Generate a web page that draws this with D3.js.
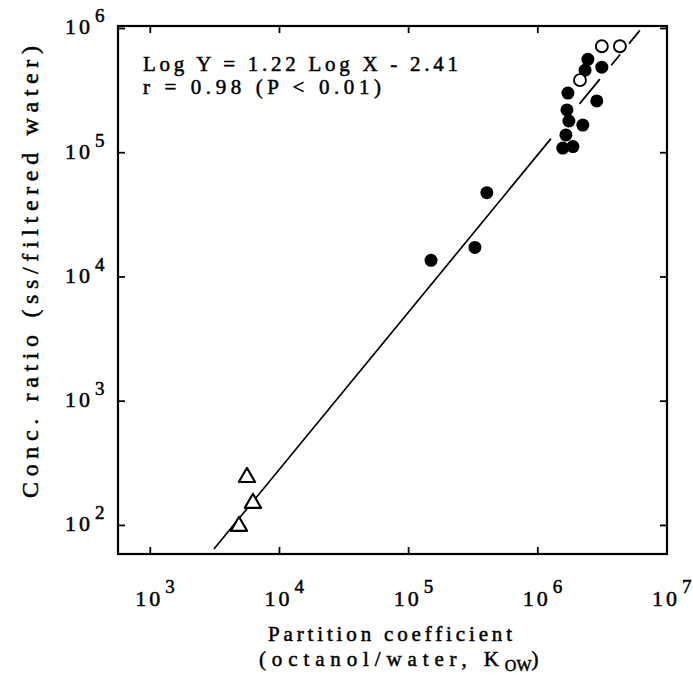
<!DOCTYPE html>
<html><head><meta charset="utf-8">
<script src="https://cdn.jsdelivr.net/npm/d3@7"></script>
<style>body{margin:0;background:#fff}</style>
</head><body>
<svg id="c" width="693" height="675"></svg>
<script>
// ---- data ----
const filledX = [1.49e5, 3.26e5, 4.03e5, 2.44e6, 2.32e6, 3.13e6, 1.71e6, 2.86e6, 1.68e6, 1.74e6, 2.23e6, 1.65e6, 1.56e6, 1.87e6];
const filledY = [1.36e4, 1.73e4, 4.77e4, 5.65e5, 4.61e5, 4.88e5, 3.02e5, 2.61e5, 2.21e5, 1.80e5, 1.67e5, 1.39e5, 1.09e5, 1.12e5];
const openX = [3.13e6, 4.32e6, 2.12e6];
const openY = [7.19e5, 7.19e5, 3.84e5];
const triX = [5600, 6230, 4860];
const triY = [244, 151, 98.6];
const lineX = [3110, 6.17e6];
const lineY = [64.6, 9.66e5];
const xTicks = [1e3, 1e4, 1e5, 1e6, 1e7];
const xTickExp = ["3", "4", "5", "6", "7"];
const yTicks = [1e2, 1e3, 1e4, 1e5, 1e6];
const yTickExp = ["2", "3", "4", "5", "6"];
const eqLines = ["Log Y = 1.22 Log X - 2.41", "r = 0.98 (P < 0.01)"];
const xTitle1 = "Partition coefficient";
const xTitle2 = ["(octanol/water, K", "OW", ")"];
const yTitle = "Conc. ratio (ss/filtered water)";

// ---- drawing ----
const svg = d3.select("#c");
const FONT = "Liberation Serif, DejaVu Serif, serif";
const L = 118, R = 667, T = 26, B = 554;
const x = d3.scaleLog().domain([Math.pow(10, 2.75), 1e7]).range([L, R]);
const y = d3.scaleLog().domain([Math.pow(10, 1.77), Math.pow(10, 6.02)]).range([B, T]);

function txt(sel) {
  return sel.attr("font-family", FONT).attr("fill", "#000")
    .attr("stroke", "#000").attr("stroke-width", 0.5);
}

// regression line (solid then dashed extrapolation)
const lineData = lineX.map((v, i) => [v, lineY[i]]);
svg.append("path")
  .attr("d", d3.line().x(d => x(d[0])).y(d => y(d[1]))(lineData))
  .attr("fill", "none").attr("stroke", "#000").attr("stroke-width", 1.7)
  .attr("stroke-dasharray", "531 45 32 18 14 14 30");

// frame
svg.append("rect").attr("x", L).attr("y", T).attr("width", R - L).attr("height", B - T)
  .attr("fill", "none").attr("stroke", "#000").attr("stroke-width", 2.2);

// ticks
const tk = 7;
xTicks.forEach(v => {
  svg.append("line").attr("x1", x(v)).attr("x2", x(v)).attr("y1", B).attr("y2", B - tk).attr("stroke", "#000").attr("stroke-width", 1.8);
  svg.append("line").attr("x1", x(v)).attr("x2", x(v)).attr("y1", T).attr("y2", T + tk).attr("stroke", "#000").attr("stroke-width", 1.8);
});
yTicks.forEach(v => {
  svg.append("line").attr("x1", L).attr("x2", L + tk).attr("y1", y(v)).attr("y2", y(v)).attr("stroke", "#000").attr("stroke-width", 1.8);
  svg.append("line").attr("x1", R).attr("x2", R - tk).attr("y1", y(v)).attr("y2", y(v)).attr("stroke", "#000").attr("stroke-width", 1.8);
});

// tick labels
xTicks.forEach((v, i) => {
  const t = txt(svg.append("text")).attr("x", x(v) - 15).attr("y", 606).attr("font-size", 22);
  t.append("tspan").attr("textLength", 25).attr("lengthAdjust", "spacing").text("10");
  t.append("tspan").attr("dx", 2).attr("dy", -13).attr("font-size", 19).text(xTickExp[i]);
});
yTicks.forEach((v, i) => {
  const t = txt(svg.append("text")).attr("x", 65).attr("y", y(v) + 6).attr("font-size", 22);
  t.append("tspan").attr("textLength", 25).attr("lengthAdjust", "spacing").text("10");
  t.append("tspan").attr("dx", 2).attr("dy", -12).attr("font-size", 19).text(yTickExp[i]);
});

// points
svg.selectAll("circle.f").data(filledX).enter().append("circle")
  .attr("cx", d => x(d)).attr("cy", (d, i) => y(filledY[i])).attr("r", 6.5).attr("fill", "#000");
svg.selectAll("circle.o").data(openX).enter().append("circle")
  .attr("cx", d => x(d)).attr("cy", (d, i) => y(openY[i])).attr("r", 6)
  .attr("fill", "#fff").attr("stroke", "#000").attr("stroke-width", 1.9);
const tri = d3.symbol().type(d3.symbolTriangle).size(115);
svg.selectAll("path.t").data(triX).enter().append("path")
  .attr("d", tri).attr("transform", (d, i) => `translate(${x(d)},${y(triY[i])})`)
  .attr("fill", "#fff").attr("stroke", "#000").attr("stroke-width", 2.1).attr("stroke-linejoin", "round");

// equation text
const eqLen = [315, 238];
eqLines.forEach((s, i) => {
  txt(svg.append("text")).attr("x", 143).attr("y", 71 + i * 23)
    .attr("font-size", 21).attr("textLength", eqLen[i]).attr("lengthAdjust", "spacing").text(s);
});

// axis titles
txt(svg.append("text")).attr("x", 268).attr("y", 641)
  .attr("font-size", 21).attr("textLength", 244).attr("lengthAdjust", "spacing").text(xTitle1);
const t2 = txt(svg.append("text")).attr("x", 259).attr("y", 666).attr("font-size", 21);
t2.append("tspan").attr("textLength", 240).attr("lengthAdjust", "spacing").text(xTitle2[0]);
t2.append("tspan").attr("dy", 5).attr("font-size", 16).text(xTitle2[1]);
t2.append("tspan").attr("dy", -5).text(xTitle2[2]);

txt(svg.append("text")).attr("transform", "translate(38,498) rotate(-90)")
  .attr("font-size", 24).attr("textLength", 452).attr("lengthAdjust", "spacing").text(yTitle);
</script>
</body></html>
